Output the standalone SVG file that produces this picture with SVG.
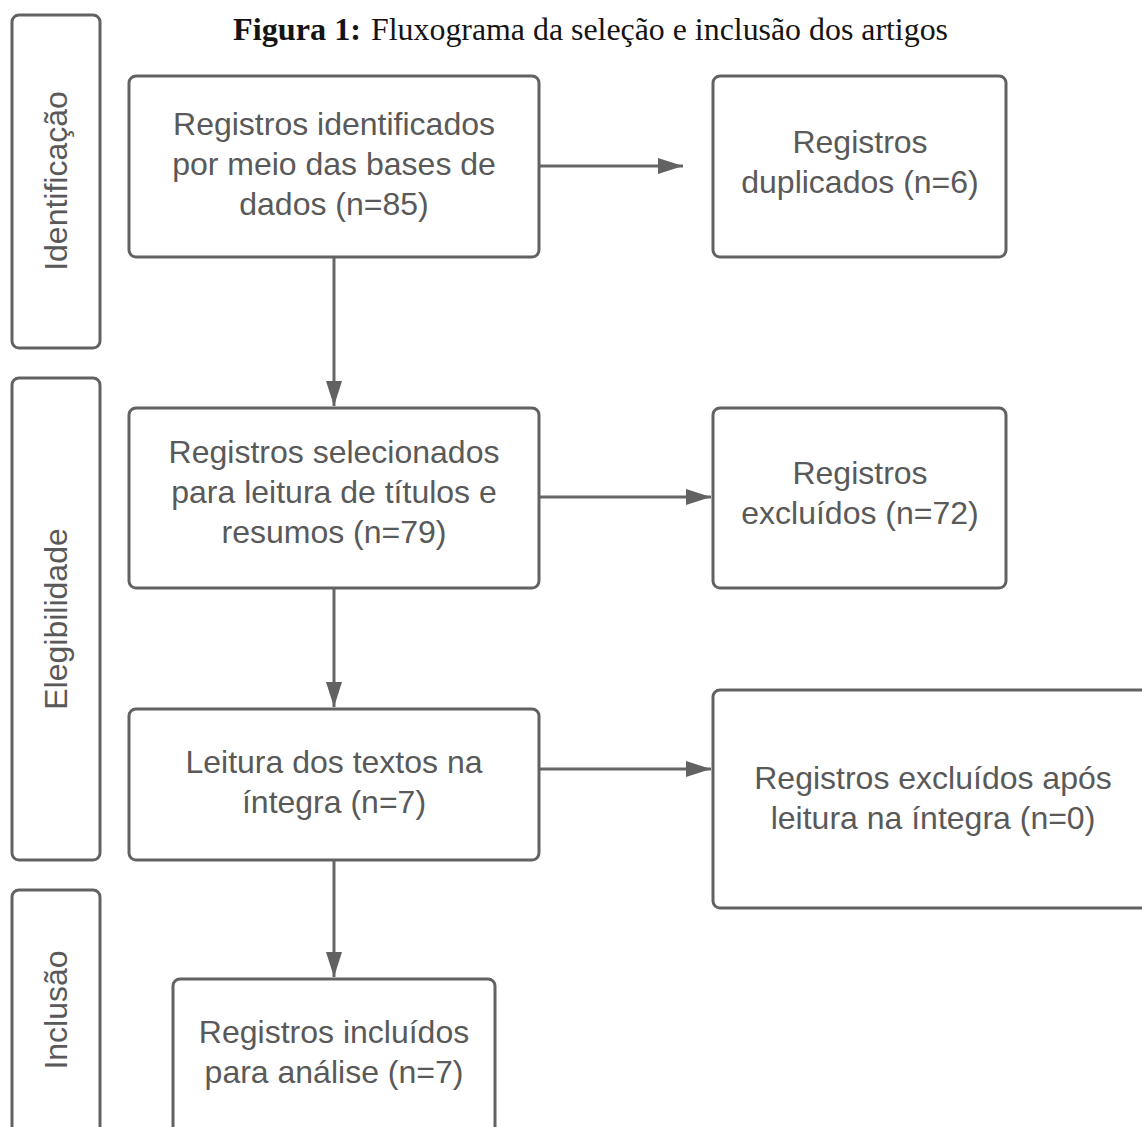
<svg xmlns="http://www.w3.org/2000/svg" width="1142" height="1127" viewBox="0 0 1142 1127">
<style>
.box{fill:#ffffff;stroke:#626262;stroke-width:3}
.t{font-family:"Liberation Sans",Arial,sans-serif;font-size:32px;fill:#595959;text-anchor:middle}
.lane{font-family:"Liberation Sans",Arial,sans-serif;font-size:32px;fill:#595959;text-anchor:middle}
.ln{stroke:#666666;stroke-width:3;fill:none}
.title{font-family:"Liberation Serif","Times New Roman",serif;font-size:31px;fill:#141414}
</style>
<defs>
<marker id="ah" markerUnits="userSpaceOnUse" markerWidth="26" markerHeight="18" refX="25" refY="8" orient="auto" viewBox="0 0 26 16">
<path d="M0,0 L25,8 L0,16 z" fill="#626262"/>
</marker>
</defs>
<rect width="1142" height="1127" fill="#ffffff"/>
<g id="title">
<text class="title" x="233" y="40" font-weight="bold" textLength="128" lengthAdjust="spacingAndGlyphs">Figura 1:</text>
<text class="title" x="371" y="40" textLength="577" lengthAdjust="spacingAndGlyphs">Fluxograma da seleção e inclusão dos artigos</text>
</g>
<g id="lane-identificacao">
<rect class="box" x="12" y="15" width="88" height="333" rx="7"/>
<text class="lane" transform="translate(67,181) rotate(-90)">Identificação</text>
</g>
<g id="lane-elegibilidade">
<rect class="box" x="12" y="378" width="88" height="482" rx="7"/>
<text class="lane" transform="translate(67,619) rotate(-90)">Elegibilidade</text>
</g>
<g id="lane-inclusao">
<rect class="box" x="12" y="890" width="88" height="260" rx="7"/>
<text class="lane" transform="translate(67,1010) rotate(-90)">Inclusão</text>
</g>
<g id="connectors">
<line class="ln" x1="539" y1="166" x2="683" y2="166" marker-end="url(#ah)"/>
<line class="ln" x1="539" y1="497" x2="711" y2="497" marker-end="url(#ah)"/>
<line class="ln" x1="539" y1="769" x2="711" y2="769" marker-end="url(#ah)"/>
<line class="ln" x1="334" y1="257" x2="334" y2="406" marker-end="url(#ah)"/>
<line class="ln" x1="334" y1="588" x2="334" y2="707" marker-end="url(#ah)"/>
<line class="ln" x1="334" y1="860" x2="334" y2="977" marker-end="url(#ah)"/>
</g>
<g id="n1">
<rect class="box" x="129" y="76" width="410" height="181" rx="7"/>
<text class="t" x="334" y="135">Registros identificados</text>
<text class="t" x="334" y="175">por meio das bases de</text>
<text class="t" x="334" y="215">dados (n=85)</text>
</g>
<g id="n2">
<rect class="box" x="713" y="76" width="293" height="181" rx="7"/>
<text class="t" x="860" y="153">Registros</text>
<text class="t" x="860" y="193">duplicados (n=6)</text>
</g>
<g id="n3">
<rect class="box" x="129" y="408" width="410" height="180" rx="7"/>
<text class="t" x="334" y="463">Registros selecionados</text>
<text class="t" x="334" y="503">para leitura de títulos e</text>
<text class="t" x="334" y="543">resumos (n=79)</text>
</g>
<g id="n4">
<rect class="box" x="713" y="408" width="293" height="180" rx="7"/>
<text class="t" x="860" y="484">Registros</text>
<text class="t" x="860" y="524">excluídos (n=72)</text>
</g>
<g id="n5">
<rect class="box" x="129" y="709" width="410" height="151" rx="7"/>
<text class="t" x="334" y="773">Leitura dos textos na</text>
<text class="t" x="334" y="813">íntegra (n=7)</text>
</g>
<g id="n6">
<rect class="box" x="713" y="690" width="470" height="218" rx="7"/>
<text class="t" x="933" y="789">Registros excluídos após</text>
<text class="t" x="933" y="829">leitura na íntegra (n=0)</text>
</g>
<g id="n7">
<rect class="box" x="173" y="979" width="322" height="180" rx="7"/>
<text class="t" x="334" y="1043">Registros incluídos</text>
<text class="t" x="334" y="1083">para análise (n=7)</text>
</g>
</svg>
